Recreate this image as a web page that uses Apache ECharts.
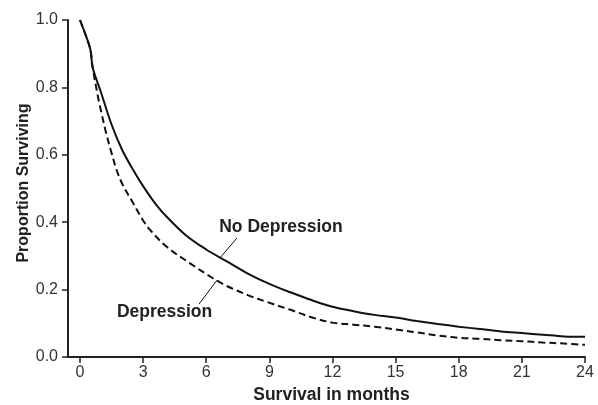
<!DOCTYPE html>
<html>
<head>
<meta charset="utf-8">
<script src="https://cdn.jsdelivr.net/npm/echarts@6/dist/echarts.min.js"></script>
<style>html,body{margin:0;padding:0;background:#fff}#c{width:598px;height:405px}</style>
</head>
<body>
<div id="c"></div>
<script>
// Months and survival proportions
const noDepMonths = [0, 0.3, 0.5, 0.6, 1.0, 1.5, 2.0, 2.5, 3.0, 3.5, 4.0, 5.0, 6.0, 7.0, 8.0, 9.0, 10, 11, 12, 13, 14, 15, 16, 17, 18, 19, 20, 21, 22, 23, 23.4, 24];
const noDepValues = [1.0, 0.95, 0.91, 0.86, 0.785, 0.69, 0.615, 0.558, 0.507, 0.462, 0.424, 0.363, 0.319, 0.283, 0.247, 0.217, 0.192, 0.169, 0.149, 0.136, 0.125, 0.117, 0.107, 0.098, 0.09, 0.083, 0.076, 0.071, 0.066, 0.061, 0.06, 0.06];
const depMonths = [0, 0.3, 0.5, 0.6, 0.87, 1.0, 1.2, 1.5, 1.74, 2.0, 2.53, 3.0, 3.33, 4.12, 5.23, 6.34, 7.0, 8.0, 8.9, 10, 11, 12, 13, 14, 15.2, 16, 17, 18, 19, 20, 21, 22, 23, 24];
const depValues = [1.0, 0.95, 0.91, 0.86, 0.767, 0.73, 0.675, 0.605, 0.555, 0.515, 0.456, 0.405, 0.377, 0.327, 0.278, 0.233, 0.21, 0.183, 0.163, 0.14, 0.118, 0.102, 0.096, 0.09, 0.08, 0.073, 0.064, 0.057, 0.054, 0.05, 0.047, 0.043, 0.04, 0.036];
const xTicks = [0, 3, 6, 9, 12, 15, 18, 21, 24];
const seriesNames = ['No Depression', 'Depression'];
const xTitle = 'Survival in months';
const yTitle = 'Proportion Surviving';

const pair = (xs, ys) => xs.map((x, i) => [x, ys[i]]);
const FONT = '"Liberation Sans", Arial, Helvetica, sans-serif';

const chart = echarts.init(document.getElementById('c'), null, {renderer: 'canvas'});
chart.setOption({
  animation: false,
  backgroundColor: '#ffffff',
  grid: {left: 68, right: 13, top: 20, bottom: 48, containLabel: false},
  xAxis: {
    type: 'value', min: -0.57, max: 24,
    axisLine: {onZero: false, lineStyle: {color: '#222', width: 2}},
    axisTick: {show: true, length: 6, customValues: xTicks, lineStyle: {color: '#222', width: 1.5}},
    axisLabel: {customValues: xTicks, margin: 8, color: '#333', fontSize: 16, fontFamily: FONT},
    splitLine: {show: false}
  },
  yAxis: {
    type: 'value', min: 0, max: 1, interval: 0.2,
    axisLine: {show: true, onZero: false, lineStyle: {color: '#222', width: 2}},
    axisTick: {show: true, length: 6, lineStyle: {color: '#222', width: 1.5}},
    axisLabel: {margin: 10, color: '#333', fontSize: 16, fontFamily: FONT, formatter: v => v.toFixed(1)},
    splitLine: {show: false}
  },
  series: [
    {
      name: seriesNames[0], type: 'line', data: pair(noDepMonths, noDepValues),
      showSymbol: false, smooth: 0.35, lineStyle: {color: '#111', width: 2},
      markLine: {
        silent: true, symbol: 'none', label: {show: false},
        lineStyle: {color: '#111', width: 1, type: 'solid'},
        data: [[{coord: [7.46, 0.353]}, {coord: [6.65, 0.294]}]]
      },
      markPoint: {
        silent: true, symbol: 'circle', symbolSize: 1, itemStyle: {color: 'rgba(0,0,0,0)'},
        label: {show: true, position: 'inside', formatter: seriesNames[0], color: '#222', fontSize: 17.5, fontWeight: 'bold', fontFamily: FONT},
        data: [{coord: [9.55, 0.386]}]
      }
    },
    {
      name: seriesNames[1], type: 'line', data: pair(depMonths, depValues),
      showSymbol: false, smooth: 0.35, lineStyle: {color: '#111', width: 2, type: [7, 4]},
      markLine: {
        silent: true, symbol: 'none', label: {show: false},
        lineStyle: {color: '#111', width: 1, type: 'solid'},
        data: [[{coord: [6.51, 0.228]}, {coord: [5.66, 0.157]}]]
      },
      markPoint: {
        silent: true, symbol: 'circle', symbolSize: 1, itemStyle: {color: 'rgba(0,0,0,0)'},
        label: {show: true, position: 'inside', formatter: seriesNames[1], color: '#222', fontSize: 17.5, fontWeight: 'bold', fontFamily: FONT},
        data: [{coord: [4.02, 0.134]}]
      }
    }
  ],
  graphic: [
    {type: 'text', x: 331.5, y: 395, style: {text: xTitle, font: 'bold 17.5px ' + FONT, fill: '#222', textAlign: 'center', textVerticalAlign: 'middle'}},
    {type: 'text', x: 24, y: 183, rotation: Math.PI / 2, style: {text: yTitle, font: 'bold 16px ' + FONT, fill: '#222', textAlign: 'center', textVerticalAlign: 'middle'}}
  ]
});
</script>
</body>
</html>
